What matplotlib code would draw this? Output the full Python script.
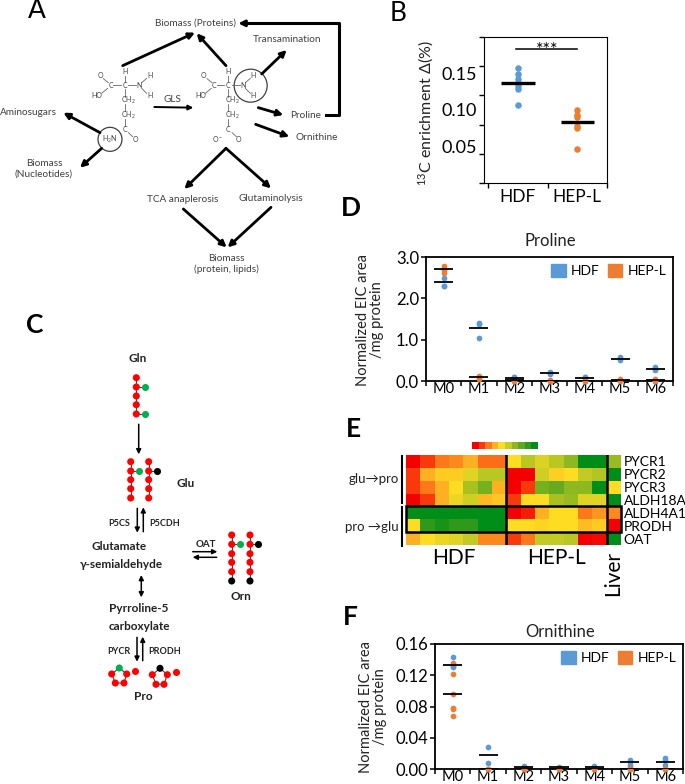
import numpy as np
from matplotlib import pyplot as plt
from matplotlib.colors import LinearSegmentedColormap, ListedColormap
from matplotlib.patches import Circle, Patch, Rectangle

plt.rcParams["font.family"] = ["Lato", "DejaVu Sans"]
plt.rcParams["mathtext.default"] = "regular"

W, H = 685, 784
BLUE = "#5b9bd5"
ORANGE = "#ed7d31"
GRAY = "#404040"

# Panel B
b_groups = ["HDF", "HEP-L"]
b_hdf = [0.1575, 0.150, 0.143, 0.137, 0.133, 0.129, 0.107]
b_hep = [0.0995, 0.0936, 0.090, 0.0776, 0.075, 0.047]
b_means = [0.137, 0.084]

# Panels D and F
isotopes = ["M0", "M1", "M2", "M3", "M4", "M5", "M6"]
pro_hdf = [[2.5, 2.3, 2.3], [1.4, 1.38, 1.05], [0.1, 0.09, 0.07], [0.22, 0.2, 0.17],
           [0.1, 0.09, 0.07], [0.58, 0.55, 0.52], [0.33, 0.3, 0.27]]
pro_hep = [[2.78, 2.72, 2.68, 2.62], [0.12, 0.08, 0.05], [0.03, 0.01, 0.0], [0.02, 0.01, 0.0],
           [0.03, 0.01, 0.0], [0.06, 0.03, 0.0], [0.05, 0.01, 0.0]]
pro_hdf_mean = [2.39, 1.29, 0.08, 0.2, 0.08, 0.54, 0.3]
pro_hep_mean = [2.7, 0.09, 0.02, 0.01, 0.01, 0.03, 0.02]

orn_hdf = [[0.144, 0.132, 0.131], [0.028, 0.008], [0.004, 0.002, 0.001], [0.003, 0.001],
           [0.004, 0.002], [0.012, 0.009, 0.005, 0.003], [0.014, 0.011, 0.005]]
orn_hep = [[0.136, 0.121, 0.096, 0.078, 0.077, 0.068], [0.0, 0.0], [0.0, 0.0], [0.0, 0.0],
           [0.0, 0.0], [0.0, 0.0], [0.0, 0.0]]
orn_hdf_mean = [0.133, 0.018, 0.002, 0.002, 0.002, 0.009, 0.009]
orn_hep_mean = [0.096, 0.0, 0.0, 0.0, 0.0, 0.0, 0.0]

# Panel E, colour index 0 (red) to 9 (green)
genes = ["PYCR1", "PYCR2", "PYCR3", "ALDH18A1", "ALDH4A1", "PRODH", "OAT"]
heat = [
    [0, 1, 2, 2.3, 3, 1.8, 1.8, 4, 5.2, 4.6, 5.2, 6, 9, 9, 5.8],
    [1, 3, 3.6, 3.6, 4.5, 5.2, 5.2, 0, 0, 4.8, 3.7, 4, 5, 5.3, 9],
    [1, 2, 3, 4, 5.5, 6.5, 3, 0, 1, 6.5, 6.8, 6, 6, 9, 4],
    [0, 1, 3, 4.3, 4.8, 3.2, 3.5, 1, 4, 4, 5.5, 5.8, 4.5, 4.5, 9],
    [9, 9, 9, 9, 9, 9, 9, 0, 0.5, 3, 4, 4, 2, 2.5, 2.3],
    [4, 8, 8.5, 8, 8, 9, 9, 4, 4, 3.8, 4, 4, 3.3, 3.6, 0],
    [3, 4, 4.3, 4.5, 5, 2.3, 2.3, 1, 2, 5, 5, 5.2, 0, 0.2, 9],
]
palette = ["#f40000", "#fb3a0c", "#fd7a1a", "#fdb022", "#fddd22",
           "#c4cb24", "#8db820", "#5ea91f", "#2f9a1c", "#008d18"]


def axes_px(left, top, right, bottom):
    return fig.add_axes([left / W, 1 - bottom / H, (right - left) / W, (bottom - top) / H])


fig = plt.figure(figsize=(W / 100, H / 100), dpi=100)

# overlay in pixel coordinates for the two pathway drawings and loose text
bg = fig.add_axes([0, 0, 1, 1])
bg.set_xlim(0, W)
bg.set_ylim(H, 0)
bg.axis("off")


def arrow(x0, y0, x1, y1, lw=2.0, size=9, style="-|>"):
    bg.annotate("", xy=(x1, y1), xytext=(x0, y0),
                arrowprops=dict(arrowstyle=style, lw=lw, color="black", mutation_scale=size,
                                shrinkA=0, shrinkB=0))


def txt(x, y, s, size=7, color=GRAY, **kw):
    bg.text(x, y, s, fontsize=size, color=color, ha=kw.pop("ha", "center"),
            va=kw.pop("va", "center"), **kw)


# panel letters
txt(37, 10, "A", 19, "black")
txt(398, 13, "B", 19, "black")
txt(35, 325, "C", 19, "black", fontweight="bold")
txt(351, 208, "D", 19, "black", fontweight="bold")
txt(353, 429, "E", 19, "black", fontweight="bold")
txt(350, 617, "F", 19, "black", fontweight="bold")

# Panel A, positions in zoomed pixels (3x)
a_arrows = [(368, 197, 585, 98), (678, 197, 590, 100), (785, 222, 860, 150),
            (775, 323, 850, 345), (767, 373, 868, 410), (300, 398, 190, 338),
            (305, 445, 240, 503), (678, 445, 553, 567), (678, 445, 813, 565),
            (550, 627, 680, 742), (813, 622, 683, 742)]
for a in a_arrows:
    arrow(*[v / 3 for v in a])
arrow(463 / 3, 321 / 3, 580 / 3, 323 / 3, lw=1.4, size=7)
bg.plot([978 / 3, 1018 / 3, 1018 / 3, 740 / 3], [345 / 3, 345 / 3, 70 / 3, 70 / 3], color="black", lw=2.2)
arrow(745 / 3, 70 / 3, 715 / 3, 70 / 3)

a_labels = [(588, 70, "Biomass (Proteins)"), (860, 119, "Transamination"), (918, 346, "Proline"),
            (950, 412, "Ornithine"), (517, 299, "GLS"), (85, 336, "Aminosugars"),
            (132, 507, "Biomass\n(Nucleotides)"), (548, 598, "TCA anaplerosis"),
            (813, 594, "Glutaminolysis"), (680, 792, "Biomass\n(protein, lipids)")]
for x, y, s in a_labels:
    txt(x / 3, y / 3, s, 7.2)

atoms = [(-74, -31, "O"), (-42, 0, "C"), (-84, 31, "HO"), (0, 0, "C"), (0, -41, "H"),
         (43, 0, "N"), (75, -30, "H"), (75, 31, "H"), (12, 46, "CH$_2$"), (12, 89, "CH$_2$"),
         (0, 132, "C"), (31, 162, "O")]
bonds = [(-34, 0, -12, 0), (11, 0, 34, 0), (0, -28, 0, -11), (0, 12, 0, 34), (0, 56, 0, 77),
         (0, 100, 0, 122), (-64, -20, -49, -8), (-69, 24, -51, 9), (11, 142, 24, 154),
         (51, -8, 66, -21), (51, 9, 66, 24)]
for cx, extra in [(374, "H$_2$N"), (685, "O$^-$")]:
    cy = 256
    for dx, dy, s in atoms:
        txt((cx + dx) / 3, (cy + dy) / 3, s, 5)
    for x0, y0, x1, y1 in bonds:
        bg.plot([(cx + x0) / 3, (cx + x1) / 3], [(cy + y0) / 3, (cy + y1) / 3], color="#666666", lw=0.6)
    if cx == 374:
        txt(330 / 3, 418 / 3, extra, 5)
    else:
        txt(652 / 3, 418 / 3, extra, 5)
bg.add_patch(Circle((330 / 3, 418 / 3), 12, fill=False, ec=GRAY, lw=0.9))
bg.add_patch(Circle((752 / 3, 257 / 3), 16.5, fill=False, ec=GRAY, lw=0.9))

# Panel C, atoms are (x, y, colour) in image pixels
red, green, black = "#ff0000", "#00b050", "#000000"
gln_y = [377.7, 387, 396, 404.7, 414]
glu_y = [461.7, 471, 479.7, 488.7, 498]
orn_y = [535, 544.3, 553.7, 562.3, 571.7, 581]
chains = [
    ([136.3] * 5, gln_y), ([130.7] * 5, glu_y), ([148.7] * 5, glu_y),
    ([231.7] * 6, orn_y), ([250] * 6, orn_y),
]
for xs, ys in chains:
    bg.plot(xs, ys, color="#444444", lw=0.8, zorder=2)
    cols = [red] * len(ys)
    if len(ys) == 6:
        cols[-1] = black
    bg.scatter(xs, ys, s=26, c=cols, linewidths=0, zorder=3)

side = [(136.3, 387, 144.7, 387, green), (136.3, 414, 145, 414, green),
        (130.7, 471, 138.7, 471, green), (148.7, 471, 157, 471, black),
        (231.7, 544.3, 240.3, 544.3, green), (250, 544.3, 258.3, 544.3, black)]
for x0, y0, x1, y1, c in side:
    bg.plot([x0, x1], [y0, y1], color="#444444", lw=0.8, zorder=2)
    bg.scatter([x1], [y1], s=26, c=c, linewidths=0, zorder=3)

rings = [
    ([119.3, 111.7, 115.3, 124, 126.7], [668, 674, 683, 683, 674], green, (135, 671.3)),
    ([160, 152.3, 156, 164, 167.3], [668.3, 674.7, 684.3, 684.3, 674.7], black, (175.7, 672.3)),
]
for xs, ys, top, ex in rings:
    bg.plot(xs + xs[:1], ys + ys[:1], color="#444444", lw=0.8, zorder=2)
    bg.scatter(xs, ys, s=26, c=[top] + [red] * 4, linewidths=0, zorder=3)
    bg.scatter([ex[0]], [ex[1]], s=26, c=red, linewidths=0, zorder=3)

c_arrows = [(138.7, 424.3, 138.7, 454.3), (137.3, 508.3, 137.3, 532.7), (143.3, 531.7, 143.3, 507.3),
            (192.7, 551.7, 217.3, 551.7), (216.7, 557.3, 192.7, 557.3),
            (137, 637.3, 137, 661.7), (142.7, 660.7, 142.7, 636.7)]
for a in c_arrows:
    arrow(*a, lw=1.1, size=7)
arrow(141.3, 575, 141.3, 597.3, lw=1.1, size=7, style="<|-|>")

c_bold = [(137.7, 358, "Gln", 8.5), (185.3, 483.7, "Glu", 8.5), (119.3, 546, "Glutamate", 8.5),
          (121, 564, "γ-semialdehyde", 8.5), (241, 596, "Orn", 8.5), (139, 608.7, "Pyrroline-5", 8.5),
          (139, 626, "carboxylate", 8.5), (143.3, 696.7, "Pro", 8.5), (119.3, 523, "P5CS", 6.5),
          (164.7, 523, "P5CDH", 6.5), (206, 544.3, "OAT", 7), (118.7, 651.7, "PYCR", 6.5),
          (164.7, 651.7, "PRODH", 6.5)]
for x, y, s, fs in c_bold:
    txt(x, y, s, fs, "#222222", fontweight="bold")


def dots(ax, values, color, zorder):
    for i, vals in enumerate(values):
        ax.scatter([i + 0.5] * len(vals), vals, s=17, c=color, linewidths=0, zorder=zorder, clip_on=False)


def isotope_panel(box, hdf, hep, hdf_mean, hep_mean, ymax, yticks, ylabels, title, title_y, label_x, label_y):
    ax = axes_px(*box)
    dots(ax, hdf, BLUE, 3)
    dots(ax, hep, ORANGE, 4)
    x = np.arange(7) + 0.5
    ax.hlines(hdf_mean, x - 0.27, x + 0.27, color="black", lw=1.3, zorder=5)
    ax.hlines(hep_mean, x - 0.27, x + 0.27, color="black", lw=1.3, zorder=5)
    ax.set_xlim(0, 7)
    ax.set_ylim(0, ymax)
    ax.set_yticks(yticks, ylabels, fontsize=12)
    ax.set_xticks(np.arange(8), [""] * 8)
    ax.set_xticks(x, isotopes, minor=True, fontsize=10.5)
    ax.tick_params(axis="x", which="minor", length=0, pad=1)
    ax.tick_params(axis="both", which="major", width=1.1, length=3.5, pad=1.5)
    for s in ax.spines.values():
        s.set_linewidth(1.3)
    ax.patch.set_alpha(0)
    ax.legend(handles=[Patch(color=BLUE, label="HDF"), Patch(color=ORANGE, label="HEP-L")],
              loc="upper right", ncol=2, frameon=False, fontsize=10, handlelength=1.05, handleheight=1.05,
              handletextpad=0.35, columnspacing=0.6, borderaxespad=0.2, borderpad=0.3)
    txt((box[0] + box[2]) / 2 + 1, title_y, title, 12, "#222222")
    txt(label_x, label_y, "Normalized EIC area\n/mg protein", 10.5, "#222222", rotation=90, linespacing=1.05)


isotope_panel((426, 257, 673, 381), pro_hdf, pro_hep, pro_hdf_mean, pro_hep_mean, 3.0,
              [0, 1, 2, 3], ["0.0", "1.0", "2.0", "3.0"], "Proline", 241, 370, 320)
isotope_panel((435, 644, 683, 769), orn_hdf, orn_hep, orn_hdf_mean, orn_hep_mean, 0.16,
              [0, 0.04, 0.08, 0.12, 0.16], ["0.00", "0.04", "0.08", "0.12", "0.16"], "Ornithine", 632, 373, 707)

# Panel B
ax_b = axes_px(484, 37, 607, 183)
ax_b.patch.set_alpha(0)
ax_b.scatter([0.5] * len(b_hdf), b_hdf, s=22, c=BLUE, linewidths=0, zorder=3)
ax_b.scatter([1.5] * len(b_hep), b_hep, s=22, c=ORANGE, linewidths=0, zorder=3)
ax_b.hlines(b_means, [0.22, 1.22], [0.78, 1.78], color="black", lw=2.4, zorder=4)
ax_b.plot([0.47, 1.5], [0.1836, 0.1836], color="black", lw=1.1)
ax_b.text(1.0, 0.1825, "***", ha="center", va="center", fontsize=13)
ax_b.set_xlim(-0.07, 2.0)
ax_b.set_ylim(0, 0.2)
ax_b.set_yticks(np.arange(0, 0.21, 0.04), [""] * 6)
ax_b.set_yticks([0, 0.05, 0.1, 0.15, 0.2], ["0", "0.05", "0.10", "0.15", "0.20"], minor=True, fontsize=13)
ax_b.set_xticks([0, 1, 2], [""] * 3)
ax_b.set_xticks([0.5, 1.5], b_groups, minor=True, fontsize=12.5)
ax_b.tick_params(which="minor", length=0, pad=5)
ax_b.tick_params(axis="x", which="minor", pad=4)
ax_b.tick_params(which="major", width=1, length=3.5)
txt(426, 113, "$^{13}$C enrichment Δ(%)", 11.5, "#222222", rotation=90)

# Panel E
cmap = LinearSegmentedColormap.from_list("heat", palette)
ax_e = axes_px(406, 455, 621, 545)
ax_e.imshow(heat, aspect="auto", cmap=cmap, vmin=0, vmax=9, interpolation="nearest", extent=(0, 15, 7, 0))
for c in [7, 14]:
    ax_e.axvline(c, color="black", lw=1.8)
ax_e.add_patch(Rectangle((0, 4), 15, 2, fill=False, ec="black", lw=1.8, clip_on=False, zorder=5))
ax_e.set_xticks([])
ax_e.yaxis.tick_right()
ax_e.set_yticks(np.arange(7) + 0.5, genes, fontsize=10)
ax_e.tick_params(axis="y", length=0, pad=2)
for s in ax_e.spines.values():
    s.set_visible(False)

ax_key = axes_px(472, 442, 538, 449)
ax_key.imshow([list(range(10))], aspect="auto", cmap=ListedColormap(palette), interpolation="nearest")
ax_key.axis("off")

bg.plot([402, 402], [456, 503], color="black", lw=1.5)
bg.plot([402, 402], [507, 546], color="black", lw=1.5)
txt(399, 479, "glu→pro", 9.5, "#222222", ha="right")
txt(399, 527, "pro →glu", 9.5, "#222222", ha="right")
txt(454, 558, "HDF", 15, "black")
txt(557, 558, "HEP-L", 15, "black")
txt(613, 573, "Liver", 15, "black", rotation=90)

fig.savefig("out.png", dpi=100)
